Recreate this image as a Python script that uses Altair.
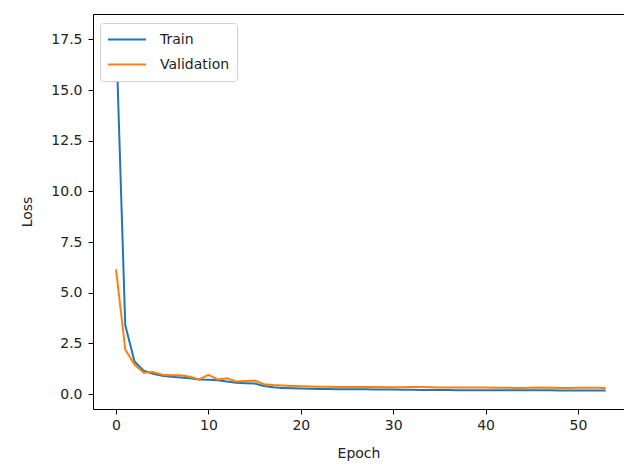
import altair as alt
import pandas as pd

epochs = list(range(54))
train_loss = [17.9, 3.4, 1.6, 1.15, 1.0, 0.9, 0.85, 0.82, 0.78, 0.72,
              0.7, 0.68, 0.62, 0.55, 0.53, 0.52, 0.4, 0.33, 0.3, 0.28,
              0.27, 0.26, 0.25, 0.25, 0.24, 0.24, 0.23, 0.23, 0.22, 0.22,
              0.22, 0.21, 0.21, 0.2, 0.2, 0.2, 0.2, 0.19, 0.19, 0.19,
              0.19, 0.19, 0.18, 0.18, 0.18, 0.18, 0.18, 0.18, 0.17, 0.17,
              0.17, 0.17, 0.17, 0.17]
val_loss = [6.15, 2.2, 1.45, 1.05, 1.08, 0.95, 0.92, 0.92, 0.85, 0.72,
            0.95, 0.72, 0.78, 0.62, 0.64, 0.66, 0.48, 0.44, 0.42, 0.4,
            0.38, 0.37, 0.36, 0.36, 0.35, 0.35, 0.35, 0.34, 0.34, 0.33,
            0.33, 0.33, 0.34, 0.35, 0.33, 0.32, 0.32, 0.32, 0.32, 0.32,
            0.32, 0.31, 0.31, 0.3, 0.3, 0.31, 0.32, 0.31, 0.3, 0.3,
            0.31, 0.31, 0.31, 0.3]
series_names = ["Train", "Validation"]
series_colors = ["#1f77b4", "#ff7f0e"]
x_ticks = [0, 10, 20, 30, 40, 50]
y_ticks = [0.0, 2.5, 5.0, 7.5, 10.0, 12.5, 15.0, 17.5]

df = pd.concat([
    pd.DataFrame({"Epoch": epochs, "Loss": train_loss, "Series": series_names[0], "ord": 0}),
    pd.DataFrame({"Epoch": epochs, "Loss": val_loss, "Series": series_names[1], "ord": 1}),
])

font = "DejaVu Sans"

chart = alt.Chart(df).mark_line(strokeWidth=2).encode(
    x=alt.X("Epoch:Q",
            scale=alt.Scale(domain=[-2.49, 54.98], nice=False, zero=False),
            axis=alt.Axis(values=x_ticks, title="Epoch", grid=False, format="d",
                          titlePadding=14, labelPadding=4)),
    y=alt.Y("Loss:Q",
            scale=alt.Scale(domain=[-0.74, 18.75], nice=False, zero=False),
            axis=alt.Axis(values=y_ticks, title="Loss", grid=False, format=".1f",
                          titlePadding=16, labelPadding=6)),
    color=alt.Color("Series:N",
                    scale=alt.Scale(domain=series_names, range=series_colors),
                    legend=alt.Legend(title=None, orient="none", legendX=7, legendY=9,
                                      symbolType="stroke", symbolSize=1444,
                                      symbolStrokeWidth=2, labelOffset=13,
                                      labelFontSize=14, labelFont=font, labelColor="#222",
                                      fillColor="white", strokeColor="#d0d0d0",
                                      cornerRadius=3, padding=7, clipHeight=19,
                                      rowPadding=6)),
    order=alt.Order("ord:Q"),
).properties(
    width=531, height=395,
    background="white",
    autosize=alt.AutoSizeParams(type="none"),
    padding={"left": 85, "top": 6, "right": 0, "bottom": 54},
).configure_view(
    stroke="black", strokeWidth=1
).configure_axis(
    labelFont=font, titleFont=font, labelFontSize=14, titleFontSize=14,
    labelColor="#222", titleColor="#222", titleFontWeight="normal",
    domain=False, tickColor="black", tickSize=5, tickWidth=1
)

chart.save("out.html", embed_options={"renderer": "svg", "actions": False})
